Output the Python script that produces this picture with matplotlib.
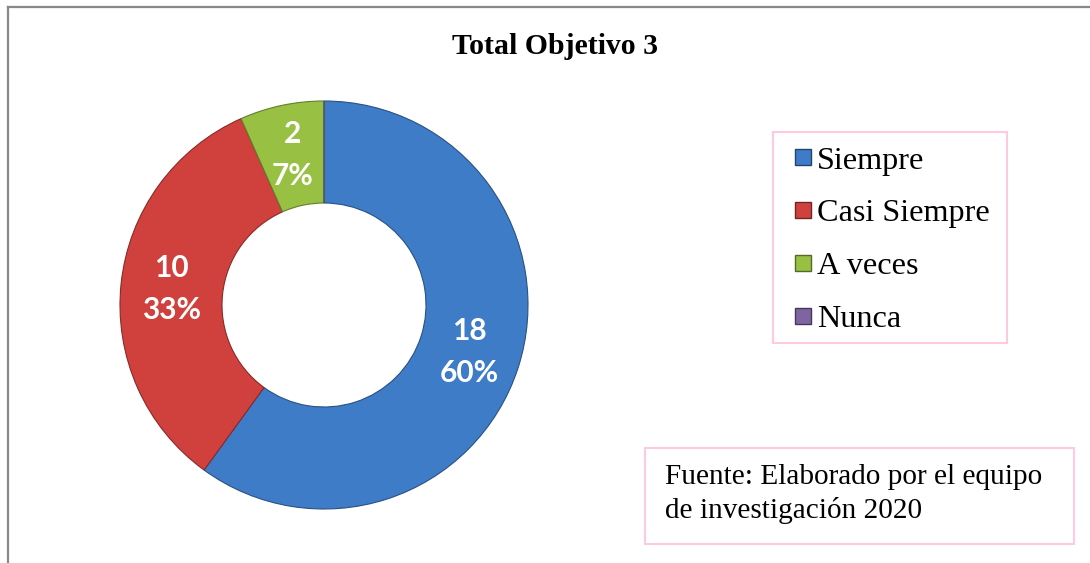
"""Donut chart: Total Objetivo 3."""
import numpy as np
import matplotlib
matplotlib.use("Agg")
import matplotlib.pyplot as plt
from matplotlib.lines import Line2D
from matplotlib.patches import Rectangle
from matplotlib.colors import to_rgb

W, H = 1090, 563

categories = ["Siempre", "Casi Siempre", "A veces", "Nunca"]
counts = [18, 10, 2, 0]
colors = ["#3F7CC8", "#D0413E", "#98C143", "#8064A2"]

title = "Total Objetivo 3"
source_note = "Fuente: Elaborado por el equipo\nde investigación 2020"

SERIF = ["Liberation Serif", "DejaVu Serif"]
LABEL_FONT = ["Lato", "DejaVu Sans"]
PINK = "#FFC9E0"


def darker(c, f=0.7):
    r, g, b = to_rgb(c)
    return (r * f, g * f, b * f)


def px(x, y):
    """pixel (top-left origin) -> figure fraction"""
    return x / W, 1 - y / H


fig = plt.figure(figsize=(W / 100, H / 100), dpi=100)

# outer frame (only left and top edges visible)
fig.add_artist(Line2D([8 / W, 8 / W], [0, 1 - 7 / H], color="#888888", lw=1.6,
                      transform=fig.transFigure))
fig.add_artist(Line2D([8 / W, 1], [1 - 7 / H, 1 - 7 / H], color="#888888", lw=1.6,
                      transform=fig.transFigure))

# donut
cx, cy, r = 324, 305, 204
ax = fig.add_axes([(cx - r) / W, (H - cy - r) / H, 2 * r / W, 2 * r / H])
total = sum(counts)


def fmt(p):
    n = int(round(p * total / 100))
    return f"{n}\n{p:.0f}%" if n else ""


wedges, _, autotexts = ax.pie(
    counts, colors=colors, startangle=90, counterclock=False,
    wedgeprops=dict(width=0.5, linewidth=0.8), autopct=fmt, pctdistance=0.75)
for w, c in zip(wedges, colors):
    w.set_edgecolor(darker(c, 0.65))
for t in autotexts:
    t.set_color("white")
    t.set_fontsize(21.5)
    t.set_fontweight("bold")
    t.set_family(LABEL_FONT)
    t.set_linespacing(1.6)
ax.set_xlim(-1, 1)
ax.set_ylim(-1, 1)
ax.set_aspect("equal")
ax.axis("off")

# title
fig.text(*px(555, 46), title, ha="center", va="center", fontsize=21.4,
         fontweight="bold", family=SERIF)

# legend box
x0, y0 = px(773, 343)
fig.add_artist(Rectangle((x0, y0), (1007 - 773) / W, (343 - 132) / H,
                         transform=fig.transFigure, fill=False,
                         edgecolor=PINK, lw=1.5))
handles = [Line2D([], [], ls="none", marker="s", markersize=12,
                  markerfacecolor=c, markeredgecolor=darker(c, 0.55))
           for c in colors]
fig.legend(handles, categories, loc="upper left",
           bbox_to_anchor=px(793, 146), frameon=False,
           prop=dict(family=SERIF, size=23.2), handlelength=0.6,
           handletextpad=0.15, labelspacing=0.72, borderpad=0, borderaxespad=0)

# source box
x0, y0 = px(645, 544)
fig.add_artist(Rectangle((x0, y0), (1074 - 645) / W, (544 - 448) / H,
                         transform=fig.transFigure, fill=False,
                         edgecolor=PINK, lw=1.5))
fig.text(*px(665, 494), source_note, ha="left", va="center", fontsize=21.1,
         family=SERIF, linespacing=1.33)

fig.savefig("out.png", dpi=100)
